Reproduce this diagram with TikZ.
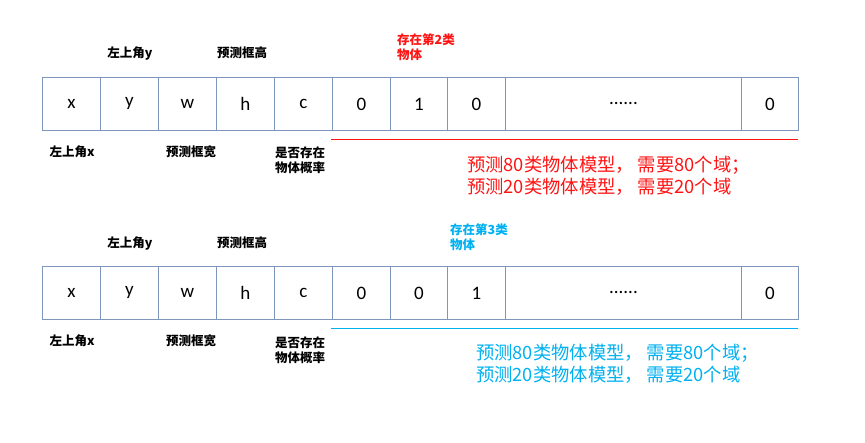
\documentclass[tikz,border=0pt]{standalone}
\usepackage{fontspec}
\setmainfont{Carlito}
\newfontfamily\cjk{Noto Sans CJK SC}
\definecolor{cellc}{RGB}{125,150,185}
\definecolor{myblue}{RGB}{0,176,240}
\definecolor{myred}{RGB}{255,20,20}
\begin{document}
\begin{tikzpicture}[x=1pt,y=-1pt,
  cell/.style={draw=cellc, line width=0.9pt, minimum height=53pt, inner sep=0pt,
    font=\fontsize{19}{21}\selectfont, anchor=north west},
  lab/.style={font=\cjk\bfseries\fontsize{12.5}{15}\selectfont, align=left, inner sep=0pt},
  note/.style={font=\cjk\fontsize{18.3}{22}\selectfont, align=left, inner sep=0pt, anchor=west}]
\useasboundingbox (0,0) rectangle (865,443);
% ---------- row 1 ----------
\node[cell, minimum width=58pt] (a1) at (42,77) {x};
\node[cell, minimum width=58pt] (a2) at (100,77) {y};
\node[cell, minimum width=58pt] (a3) at (158,77) {w};
\node[cell, minimum width=58pt] (a4) at (216,77) {h};
\node[cell, minimum width=58pt] (a5) at (274,77) {c};
\node[cell, minimum width=58pt] (a6) at (332,77) {0};
\node[cell, minimum width=57pt] (a7) at (390,77) {1};
\node[cell, minimum width=58pt] (a8) at (447,77) {0};
\node[cell, minimum width=236pt] (a9) at (505,77) {......};
\node[cell, minimum width=57pt] (a10) at (741,77) {0};
\node[lab] (la1) at (130,53) {左上角y};
\node[lab] (la2) at (242,53) {预测框高};
\node[lab, text=myred, anchor=west] (la3) at (397,47) {存在第2类\\物体};
\node[lab] (la4) at (72,152) {左上角x};
\node[lab] (la5) at (191,152) {预测框宽};
\node[lab, anchor=west] (la6) at (275,160.5) {是否存在\\物体概率};
\coordinate (r1s) at (331,138.6);
\coordinate (r1e) at (798,140.4);
\fill[myred] (r1s) rectangle (r1e);
\node[note, text=myred] (n1) at (467,176) {预测80类物体模型，\hspace{4pt}需要80个域；\\预测20类物体模型，\hspace{4pt}需要20个域};
% ---------- row 2 ----------
\node[cell, minimum width=58pt] (b1) at (42,266) {x};
\node[cell, minimum width=58pt] (b2) at (100,266) {y};
\node[cell, minimum width=58pt] (b3) at (158,266) {w};
\node[cell, minimum width=58pt] (b4) at (216,266) {h};
\node[cell, minimum width=58pt] (b5) at (274,266) {c};
\node[cell, minimum width=58pt] (b6) at (332,266) {0};
\node[cell, minimum width=57pt] (b7) at (390,266) {0};
\node[cell, minimum width=58pt] (b8) at (447,266) {1};
\node[cell, minimum width=236pt] (b9) at (505,266) {......};
\node[cell, minimum width=57pt] (b10) at (741,266) {0};
\node[lab] (lb1) at (130,243) {左上角y};
\node[lab] (lb2) at (242,243) {预测框高};
\node[lab, text=myblue, anchor=west] (lb3) at (450,237) {存在第3类\\物体};
\node[lab] (lb4) at (72,341) {左上角x};
\node[lab] (lb5) at (191,341) {预测框宽};
\node[lab, anchor=west] (lb6) at (275,350) {是否存在\\物体概率};
\coordinate (r2s) at (331,327.6);
\coordinate (r2e) at (798,329.4);
\fill[myblue] (r2s) rectangle (r2e);
\node[note, text=myblue] (n2) at (476,364) {预测80类物体模型，\hspace{4pt}需要80个域；\\预测20类物体模型，\hspace{4pt}需要20个域};
\end{tikzpicture}
\end{document}
